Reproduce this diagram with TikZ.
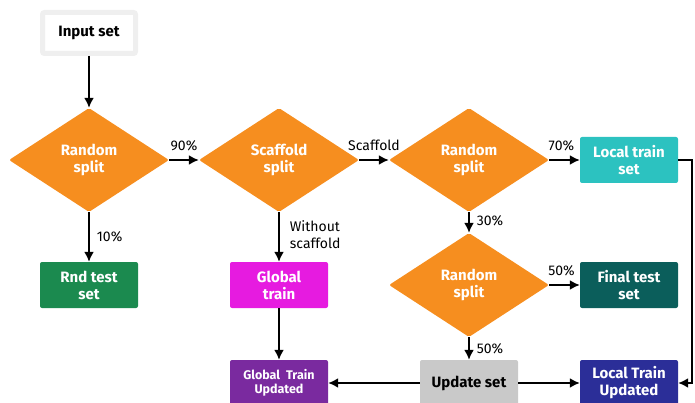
\documentclass[tikz,border=0pt]{standalone}
\usepackage{fontspec}
\setmainfont{Fira Sans}
\usetikzlibrary{shapes.geometric,arrows.meta}
\definecolor{orng}{HTML}{F68E1F}
\definecolor{tealc}{HTML}{2CC2C0}
\definecolor{grn}{HTML}{1B8A4F}
\definecolor{mag}{HTML}{E61BE0}
\definecolor{purp}{HTML}{7A2A9F}
\definecolor{dteal}{HTML}{0B5E5B}
\definecolor{lgray}{HTML}{C9C9C9}
\definecolor{dblue}{HTML}{2B2E98}
\definecolor{frame}{HTML}{EFEFEF}
\tikzset{
  dia/.style={diamond, fill=orng, minimum width=160pt, minimum height=104pt, aspect=1.54, inner sep=0pt, rounded corners=2pt, text=white, font=\bfseries\fontsize{15}{17}\selectfont, align=center},
  box/.style={rectangle, rounded corners=2pt, minimum width=98pt, minimum height=46pt, inner sep=0pt, text=white, font=\bfseries\fontsize{15}{17}\selectfont, align=center},
  arr/.style={line width=1.8pt, -{Latex[length=10pt,width=10pt]}},
  lbl/.style={font=\fontsize{14}{17}\selectfont, text=black, inner sep=1pt}
}
\begin{document}
\begin{tikzpicture}[x=1pt,y=-1pt]
\useasboundingbox (0,0) rectangle (695,403);
\node[box, draw=frame, line width=5pt, fill=white, text=black, minimum width=93pt, minimum height=41pt] (in) at (89,33) {Input set};
\node[dia] (d1) at (89,160) {Random\\split};
\node[dia] (d2) at (279,160) {Scaffold\\split};
\node[dia] (d3) at (469,160) {Random\\split};
\node[dia] (d4) at (469,285) {Random\\split};
\node[box, fill=tealc] (lt) at (629,160) {Local train\\set};
\node[box, fill=grn] (rt) at (89,285) {Rnd test\\set};
\node[box, fill=mag] (gt) at (279,285) {Global\\train};
\node[box, fill=dteal] (ft) at (629,285) {Final test\\set};
\node[box, fill=purp, font=\bfseries\fontsize{12.5}{14.5}\selectfont] (gu) at (279,383) {Global~ Train\\Updated};
\node[box, fill=lgray, text=black] (us) at (469,383) {Update set};
\node[box, fill=dblue] (lu) at (629,383) {Local Train\\Updated};
\coordinate (c1) at (692,160);
\coordinate (c2) at (692,383);

\draw[arr] (in) -- (d1);
\draw[arr] (d1) -- (d2) node[lbl, pos=0.5, above=7pt] {90\%};
\draw[arr] (d2) -- (d3) node[lbl, pos=0.5, above=7pt] {Scaffold};
\draw[arr] (d3) -- (lt) node[lbl, pos=0.4, above=7pt] {70\%};
\draw[arr] (d1) -- (rt) node[lbl, pos=0.5, right=6pt] {10\%};
\draw[arr] (d2) -- (gt) node[lbl, pos=0.45, right=9pt, align=left] {Without\\scaffold};
\draw[arr] (d3) -- (d4) node[lbl, pos=0.4, right=6pt] {30\%};
\draw[arr] (d4) -- (ft) node[lbl, pos=0.4, above=7pt] {50\%};
\draw[arr] (d4) -- (us) node[lbl, pos=0.5, right=6pt] {50\%};
\draw[arr] (gt) -- (gu);
\draw[arr] (us) -- (gu);
\draw[arr] (us) -- (lu);
\draw[arr] (lt.east) -- (c1) -- (c2) -- (lu.east);
\end{tikzpicture}
\end{document}
